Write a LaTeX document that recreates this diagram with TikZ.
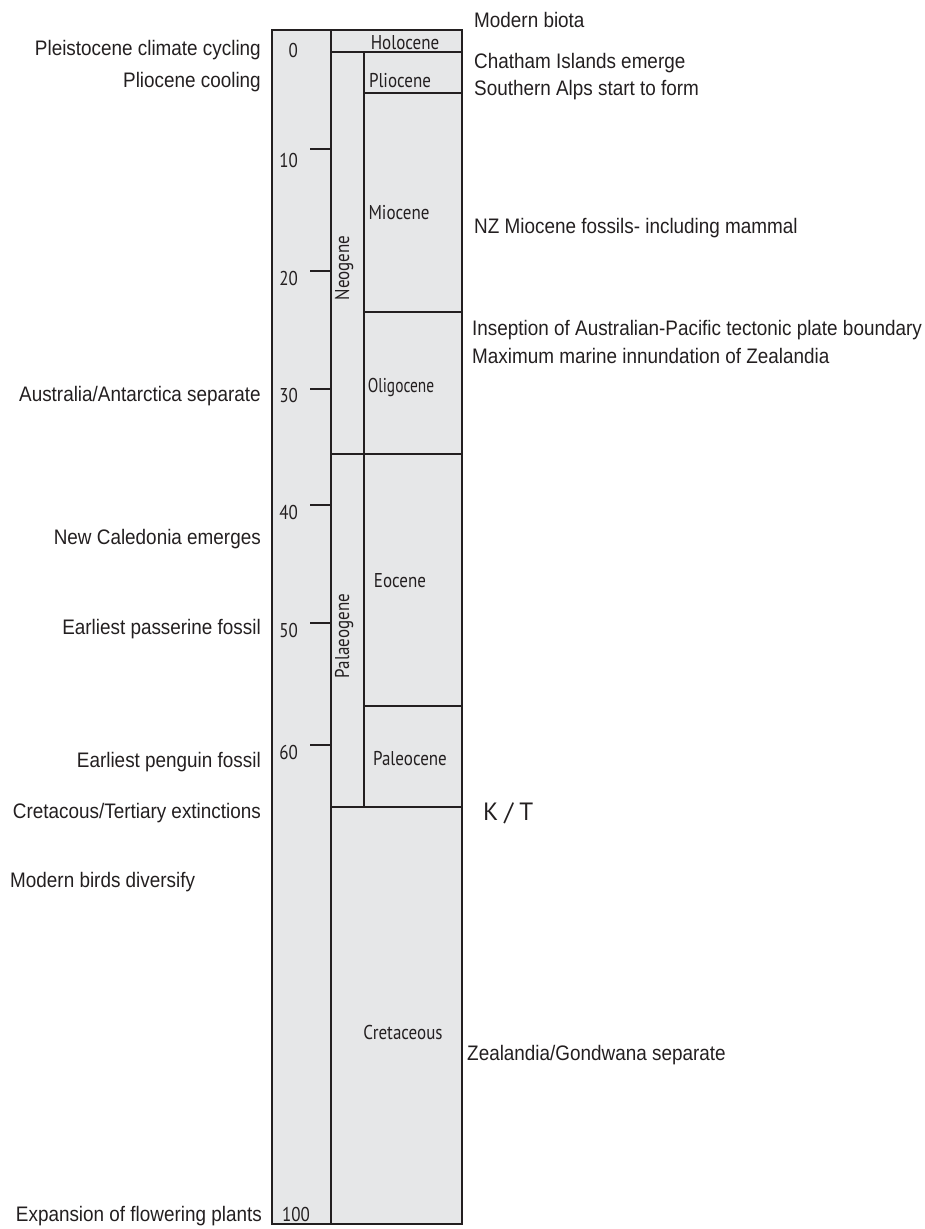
\documentclass[tikz,border=0pt]{standalone}
\usepackage{fontspec}
\newfontfamily\labfont[FakeStretch=0.9]{Liberation Sans}
\newfontfamily\chartfont[FakeStretch=0.85]{PT Sans}
\newfontfamily\chartnarrow[FakeStretch=0.77]{PT Sans}
\newfontfamily\ktfont[LetterSpace=24]{PT Sans}
\definecolor{ink}{HTML}{231F20}
\definecolor{panel}{HTML}{E6E7E8}
\tikzset{
  lab/.style={font=\labfont\fontsize{21}{25}\selectfont, text=ink, inner sep=0pt},
  labL/.style={lab, anchor=base east},
  labR/.style={lab, anchor=base west},
  unit/.style={font=\chartfont\fontsize{20}{24}\selectfont, text=ink, inner sep=0pt},
  num/.style={unit, anchor=base east},
  epoch/.style={unit, anchor=base},
  period/.style={unit, anchor=base, rotate=90},
  rule/.style={draw=ink, line width=2pt},
  tick/.style={draw=ink, line width=2pt},
}
\begin{document}
\begin{tikzpicture}[x=1pt, y=-1pt]
\useasboundingbox (0,0) rectangle (925,1229);

% time column
\fill[panel] (272,30) rectangle (462,1224);
\draw[rule] (331,30) -- (331,1224);
\draw[rule] (364,52) -- (364,807);
\draw[rule] (331,52) -- (462,52);
\draw[rule] (364,93) -- (462,93);
\draw[rule] (364,312) -- (462,312);
\draw[rule] (331,454) -- (462,454);
\draw[rule] (364,706) -- (462,706);
\draw[rule] (331,807) -- (462,807);
\draw[rule, line width=2.2pt] (272,30) rectangle (462,1224);

% scale ticks (Ma)
\foreach \ty in {149,271,389,505,623,745} \draw[tick] (310,\ty) -- (331,\ty);

% scale numbers
\node[num] (n0)   at (298,57)  {0};
\node[num] (n10)  at (298,167) {10};
\node[num] (n20)  at (298,285) {20};
\node[num] (n30)  at (298,402) {30};
\node[num] (n40)  at (298,519) {40};
\node[num] (n50)  at (298,637) {50};
\node[num] (n60)  at (298,759) {60};
\node[num] (n100) at (310,1221) {100};

% epochs
\node[epoch] (holo)  at (405,49)   {Holocene};
\node[epoch] (plio)  at (400,87)   {Pliocene};
\node[epoch] (mio)   at (399,219)  {Miocene};
\node[epoch, font=\chartnarrow\fontsize{20}{24}\selectfont] (oligo) at (401,392) {Oligocene};
\node[epoch] (eo)    at (400,587)  {Eocene};
\node[epoch] (paleo) at (410,765)  {Paleocene};
\node[epoch] (cret)  at (403,1039) {Cretaceous};

% periods
\node[period] (neo)  at (349,268) {Neogene};
\node[period] (palg) at (349,636) {Palaeogene};

% events on the left
\node[labL] (e1) at (261,55)   {Pleistocene climate cycling};
\node[labL] (e2) at (261,87)   {Pliocene cooling};
\node[labL] (e3) at (261,401)  {Australia/Antarctica separate};
\node[labL] (e4) at (261,544)  {New Caledonia emerges};
\node[labL] (e5) at (261,634)  {Earliest passerine fossil};
\node[labL] (e6) at (261,767)  {Earliest penguin fossil};
\node[labL] (e7) at (261,818)  {Cretacous/Tertiary extinctions};
\node[labR] (e8) at (10,887)   {Modern birds diversify};
\node[labL] (e9) at (262,1221) {Expansion of flowering plants};

% events on the right
\node[labR] (r1) at (474,27)   {Modern biota};
\node[labR] (r2) at (474,68)   {Chatham Islands emerge};
\node[labR] (r3) at (474,95)   {Southern Alps start to form};
\node[labR] (r4) at (474,233)  {NZ Miocene fossils- including mammal};
\node[labR] (r5) at (472,335)  {Inseption of Australian-Pacific tectonic plate boundary};
\node[labR] (r6) at (472,363)  {Maximum marine innundation of Zealandia};
\node[labR] (r7) at (467,1060) {Zealandia/Gondwana separate};
\node[font=\ktfont\fontsize{25}{30}\selectfont, text=ink, inner sep=0pt, anchor=base west] (kt) at (483,820) {K/T};
\end{tikzpicture}
\end{document}
